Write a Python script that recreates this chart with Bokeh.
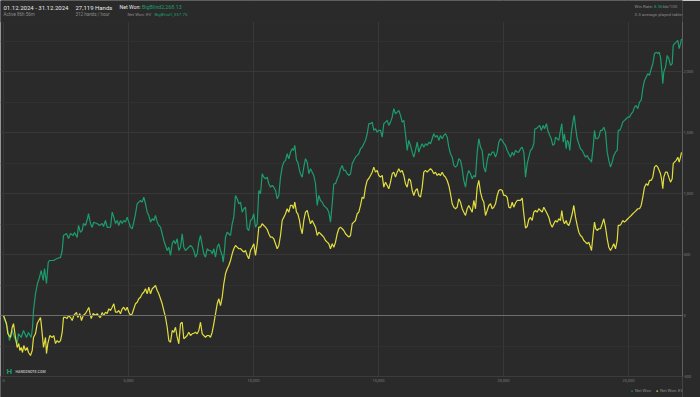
from bokeh.plotting import figure
from bokeh.models import Range1d, FixedTicker, NumeralTickFormatter, Span, Label, BoxAnnotation
from bokeh.embed import file_html
from bokeh.resources import INLINE

# ---- data (hands played vs. big blinds won) ----
won_hands = [0, 148, 240, 348, 440, 548, 600, 708, 800, 920, 1000, 1108, 1160, 1200, 1280, 1360, 1440, 1508, 1588, 1640,
             1720, 1788, 1840, 2000, 2148, 2280, 2348, 2400, 2520, 2600, 2680, 2788, 2840, 2948, 3000, 3080, 3148, 3200,
             3280, 3360, 3400, 3480, 3548, 3600, 3748, 3840, 3948, 4000, 4080, 4148, 4280, 4348, 4412, 4480, 4548, 4612,
             4680, 4748, 4812, 4880, 4948, 5012, 5080, 5148, 5212, 5280, 5348, 5412, 5480, 5548, 5612, 5680, 5748, 5812,
             5880, 5948, 6012, 6080, 6148, 6212, 6280, 6348, 6412, 6480, 6548, 6612, 6680, 6748, 6812, 6880, 6948, 7012,
             7080, 7148, 7212, 7280, 7348, 7412, 7480, 7548, 7612, 7680, 7748, 7812, 7880, 7948, 8012, 8080, 8148, 8212,
             8280, 8348, 8412, 8480, 8548, 8612, 8680, 8748, 8788, 8840, 8880, 8948, 9012, 9080, 9148, 9212, 9280, 9348,
             9412, 9480, 9548, 9612, 9680, 9748, 9812, 9880, 9948, 10012, 10080, 10148, 10212, 10280, 10348, 10412, 10480,
             10548, 10612, 10680, 10748, 10812, 10880, 10948, 11012, 11080, 11148, 11212, 11280, 11348, 11412, 11480,
             11548, 11600, 11652, 11720, 11772, 11840, 11880, 11948, 12012, 12080, 12148, 12212, 12280, 12348, 12412,
             12480, 12548, 12612, 12680, 12748, 12812, 12880, 12948, 13012, 13080, 13148, 13212, 13280, 13348, 13412,
             13480, 13548, 13612, 13680, 13748, 13812, 13880, 13948, 14012, 14080, 14148, 14212, 14280, 14348, 14412,
             14480, 14548, 14612, 14680, 14748, 14812, 14880, 14948, 15012, 15080, 15148, 15212, 15280, 15348, 15412,
             15480, 15548, 15612, 15680, 15748, 15812, 15880, 15948, 16012, 16080, 16148, 16212, 16280, 16348, 16412,
             16480, 16548, 16612, 16680, 16748, 16812, 16880, 16948, 17012, 17080, 17148, 17212, 17280, 17348, 17412,
             17480, 17548, 17612, 17680, 17748, 17812, 17880, 17948, 18012, 18080, 18148, 18212, 18280, 18348, 18412,
             18480, 18548, 18612, 18680, 18748, 18812, 18880, 18948, 19012, 19080, 19148, 19212, 19280, 19348, 19412,
             19480, 19548, 19612, 19680, 19748, 19812, 19880, 19948, 20012, 20080, 20148, 20212, 20280, 20348, 20412,
             20480, 20548, 20612, 20680, 20748, 20812, 20840, 20880, 20948, 21012, 21080, 21148, 21212, 21252, 21320,
             21372, 21452, 21508, 21588, 21640, 21720, 21772, 21852, 21908, 21972, 22040, 22080, 22148, 22212, 22280,
             22332, 22388, 22440, 22508, 22548, 22600, 22652, 22708, 22788, 22828, 22880, 22948, 23012, 23080, 23148,
             23212, 23280, 23348, 23412, 23480, 23520, 23588, 23640, 23692, 23748, 23812, 23880, 23948, 24012, 24080,
             24148, 24212, 24280, 24348, 24412, 24480, 24548, 24588, 24652, 24708, 24772, 24840, 24908, 24972, 25040,
             25108, 25172, 25240, 25308, 25372, 25440, 25508, 25572, 25640, 25708, 25772, 25840, 25908, 25972, 26040,
             26108, 26172, 26228, 26280, 26332, 26372, 26412, 26480, 26548, 26612, 26680, 26748, 26788, 26840, 26908,
             26972, 27028, 27080, 27119]
won_vals = [0, -96, -205, -123, -180, -230, -148, -180, -123, -180, -139, -180, -98, 41, 180, 262, 312, 369, 287, 385,
            262, 435, 451, 451, 467, 476, 533, 656, 672, 631, 672, 656, 681, 640, 738, 681, 697, 754, 738, 795, 836, 754,
            722, 763, 754, 738, 754, 730, 779, 722, 724, 847, 806, 754, 779, 738, 779, 754, 779, 765, 806, 765, 724, 711,
            765, 834, 916, 929, 943, 929, 970, 916, 847, 820, 765, 793, 779, 820, 765, 738, 724, 670, 615, 574, 533, 560,
            492, 588, 615, 588, 629, 533, 560, 670, 560, 533, 547, 560, 574, 560, 533, 478, 506, 601, 656, 574, 506, 478,
            547, 533, 533, 506, 547, 478, 560, 588, 533, 492, 437, 533, 642, 683, 670, 656, 752, 806, 984, 957, 916, 929,
            847, 875, 888, 711, 697, 779, 793, 834, 724, 752, 1025, 998, 1162, 1134, 1121, 1134, 1080, 1052, 1066, 1052,
            1025, 957, 984, 1134, 1216, 1257, 1271, 1326, 1285, 1339, 1367, 1353, 1394, 1271, 1257, 1189, 1162, 1134,
            1216, 1285, 1257, 1162, 1203, 1175, 1148, 1080, 902, 984, 943, 929, 902, 888, 875, 847, 765, 916, 1080,
            1080, 1121, 1148, 1203, 1230, 1189, 1189, 1162, 1148, 1162, 1244, 1271, 1298, 1312, 1326, 1367, 1380, 1408,
            1435, 1490, 1572, 1572, 1585, 1517, 1531, 1503, 1517, 1517, 1462, 1572, 1585, 1599, 1558, 1585, 1626, 1695,
            1654, 1667, 1681, 1640, 1585, 1599, 1490, 1353, 1435, 1394, 1339, 1298, 1353, 1421, 1339, 1380, 1408, 1380,
            1408, 1394, 1421, 1408, 1449, 1490, 1462, 1476, 1435, 1476, 1449, 1476, 1490, 1462, 1380, 1326, 1298, 1230,
            1216, 1230, 1285, 1271, 1203, 1107, 1052, 1148, 1189, 1162, 1121, 1148, 1134, 1339, 1449, 1380, 1353, 1216,
            1175, 1271, 1326, 1312, 1339, 1339, 1298, 1339, 1421, 1449, 1435, 1413, 1394, 1353, 1326, 1298, 1339, 1312,
            1353, 1339, 1339, 1367, 1380, 1337, 1271, 1134, 1244, 1298, 1353, 1369, 1408, 1531, 1531, 1544, 1558, 1517,
            1558, 1531, 1572, 1517, 1476, 1449, 1394, 1408, 1462, 1449, 1435, 1517, 1572, 1421, 1490, 1367, 1435, 1421,
            1353, 1490, 1599, 1640, 1544, 1449, 1408, 1367, 1353, 1326, 1298, 1312, 1285, 1271, 1257, 1380, 1517, 1449,
            1449, 1462, 1517, 1517, 1544, 1503, 1339, 1271, 1216, 1257, 1312, 1339, 1353, 1517, 1517, 1544, 1585, 1599,
            1613, 1626, 1626, 1654, 1667, 1708, 1722, 1695, 1749, 1763, 1859, 1927, 1954, 1982, 1968, 2023, 2064, 2146,
            2159, 2146, 2159, 2118, 2009, 1900, 1995, 2036, 2132, 2105, 2050, 2064, 2214, 2228, 2241, 2255, 2187, 2228,
            2268]

ev_hands = [0, 120, 172, 280, 348, 400, 480, 548, 612, 652, 708, 760, 812, 880, 948, 1000, 1080, 1148, 1200, 1280, 1348,
            1412, 1480, 1508, 1548, 1600, 1680, 1720, 1772, 1852, 1948, 2012, 2080, 2148, 2212, 2280, 2348, 2400, 2480,
            2548, 2600, 2680, 2748, 2812, 2920, 2972, 3052, 3120, 3188, 3280, 3348, 3412, 3452, 3508, 3588, 3680, 3748,
            3852, 3880, 3948, 4012, 4080, 4148, 4212, 4280, 4348, 4412, 4480, 4548, 4612, 4680, 4748, 4812, 4880, 4948,
            5012, 5080, 5148, 5212, 5280, 5348, 5412, 5480, 5548, 5612, 5680, 5748, 5812, 5880, 5948, 6012, 6080, 6148,
            6212, 6280, 6348, 6412, 6480, 6548, 6612, 6680, 6748, 6812, 6880, 6948, 7012, 7080, 7148, 7212, 7280, 7348,
            7412, 7480, 7548, 7612, 7680, 7748, 7812, 7880, 7948, 8012, 8080, 8148, 8212, 8280, 8348, 8412, 8480, 8548,
            8612, 8680, 8748, 8812, 8880, 8948, 9012, 9080, 9148, 9212, 9280, 9348, 9412, 9480, 9548, 9612, 9680, 9748,
            9812, 9880, 9948, 10012, 10080, 10148, 10212, 10280, 10348, 10412, 10480, 10548, 10612, 10680, 10748, 10812,
            10880, 10948, 11012, 11080, 11148, 11212, 11280, 11348, 11412, 11480, 11548, 11600, 11652, 11720, 11772,
            11840, 11880, 11948, 12012, 12080, 12148, 12212, 12280, 12348, 12412, 12480, 12548, 12612, 12680, 12748,
            12812, 12880, 12948, 13012, 13080, 13148, 13212, 13280, 13348, 13412, 13480, 13548, 13612, 13680, 13748,
            13812, 13880, 13948, 14012, 14080, 14148, 14212, 14280, 14348, 14412, 14480, 14548, 14612, 14680, 14748,
            14812, 14880, 14948, 15012, 15080, 15148, 15212, 15280, 15348, 15412, 15480, 15548, 15612, 15680, 15748,
            15812, 15880, 15948, 16012, 16080, 16148, 16212, 16280, 16348, 16412, 16480, 16548, 16612, 16680, 16748,
            16812, 16880, 16948, 17012, 17080, 17148, 17212, 17280, 17348, 17412, 17480, 17548, 17612, 17680, 17748,
            17812, 17880, 17948, 18012, 18080, 18148, 18212, 18280, 18348, 18412, 18480, 18548, 18612, 18680, 18748,
            18812, 18880, 18948, 19012, 19080, 19148, 19212, 19280, 19348, 19412, 19480, 19548, 19612, 19680, 19748,
            19812, 19880, 19948, 20012, 20080, 20148, 20212, 20280, 20348, 20412, 20480, 20548, 20612, 20680, 20748,
            20812, 20880, 20948, 21012, 21080, 21148, 21212, 21280, 21348, 21412, 21480, 21548, 21612, 21680, 21748,
            21812, 21880, 21948, 22012, 22080, 22148, 22212, 22280, 22332, 22388, 22440, 22508, 22548, 22612, 22680,
            22748, 22812, 22880, 22948, 23012, 23080, 23148, 23212, 23280, 23348, 23412, 23480, 23520, 23588, 23640,
            23692, 23748, 23812, 23880, 23948, 24012, 24080, 24148, 24212, 24280, 24348, 24412, 24480, 24548, 24588,
            24652, 24708, 24772, 24840, 24908, 24972, 25040, 25108, 25172, 25240, 25308, 25372, 25440, 25508, 25572,
            25640, 25708, 25772, 25840, 25908, 25972, 26040, 26108, 26172, 26228, 26280, 26332, 26372, 26412, 26480,
            26548, 26612, 26680, 26748, 26788, 26840, 26908, 26972, 27028, 27080, 27119]
ev_vals = [0, -66, -148, -180, -98, -66, -180, -262, -230, -287, -262, -303, -246, -287, -262, -303, -328, -287, -180,
           -148, -66, -41, -16, -66, -148, -262, -180, -312, -230, -164, -180, -164, -230, -205, -221, -205, -139, -16,
           -16, -25, 0, -16, -41, 0, 25, -16, 16, -41, 0, 16, 41, 66, 25, -25, 16, 0, 16, -16, -14, 25, 0, 27, 16, 55,
           41, 68, 96, 27, 27, 41, 14, 55, 68, 41, 68, 27, 0, 14, 55, 96, 109, 137, 150, 178, 191, 219, 178, 232, 178,
           219, 232, 246, 205, 178, 137, 96, 41, -14, -96, -205, -219, -123, -137, -96, -178, -232, -68, -55, -191,
           -178, -164, -137, -164, -150, -145, -137, -150, -123, -55, -150, -164, -178, -164, -164, -178, -137, -68, 14,
           96, 137, 82, 150, 260, 342, 383, 410, 451, 506, 547, 574, 560, 547, 549, 533, 519, 533, 492, 465, 533, 560,
           588, 492, 588, 724, 724, 752, 738, 724, 705, 670, 642, 642, 629, 588, 547, 574, 656, 779, 806, 834, 875, 847,
           902, 902, 877, 929, 847, 834, 779, 724, 670, 779, 847, 861, 806, 752, 779, 752, 724, 656, 683, 670, 656, 642,
           615, 601, 588, 547, 588, 560, 601, 670, 711, 724, 711, 697, 670, 656, 642, 656, 752, 765, 779, 834, 847, 902,
           970, 959, 1052, 1107, 1123, 1148, 1175, 1216, 1175, 1189, 1148, 1134, 1148, 1052, 1093, 1066, 1039, 1093,
           1162, 1175, 1134, 1175, 1203, 1175, 1189, 1148, 1080, 1052, 1121, 1107, 1025, 984, 1025, 1039, 984, 970,
           1052, 1175, 1189, 1175, 1189, 1203, 1189, 1162, 1175, 1148, 1162, 1148, 1175, 1148, 1134, 1107, 1066, 998,
           916, 888, 875, 888, 957, 929, 875, 847, 820, 875, 902, 875, 847, 943, 875, 1052, 1107, 1011, 957, 929, 820,
           861, 902, 916, 875, 888, 916, 984, 1025, 1033, 1025, 984, 984, 968, 888, 881, 929, 888, 922, 943, 943, 943,
           963, 834, 717, 730, 787, 804, 779, 847, 861, 847, 875, 861, 847, 888, 861, 834, 806, 752, 724, 752, 779, 765,
           793, 779, 861, 779, 752, 779, 752, 738, 779, 834, 902, 806, 738, 683, 656, 642, 615, 601, 588, 601, 560, 533,
           670, 765, 711, 697, 711, 711, 752, 793, 724, 629, 560, 533, 560, 588, 547, 615, 738, 738, 752, 779, 765, 779,
           793, 806, 820, 834, 847, 861, 875, 875, 902, 970, 1052, 1080, 1066, 1107, 1107, 1134, 1216, 1230, 1216,
           1189, 1162, 1107, 1039, 1134, 1175, 1175, 1134, 1093, 1121, 1244, 1257, 1271, 1298, 1257, 1298, 1338]

x_ticks = [0, 5000, 10000, 15000, 20000, 25000]
y_ticks = [-500, 0, 500, 1000, 1500, 2000]
y_minor = [-250, 250, 750, 1250, 1750, 2250]
series_labels = ["Net Won", "Net Won: EV"]

BG = "#2a2a2a"
GREEN = "#1c9d6d"
YELLOW = "#e2de3e"
FONT = "Roboto"
WHITE = "#e6e6e6"
GREY = "#8a8a8a"
TICK = "#7c7c7c"

p = figure(width=700, height=397, output_backend="svg", toolbar_location=None,
           x_range=Range1d(-120, 27160), y_range=Range1d(-672, 2582),
           y_axis_location="right",
           background_fill_color=BG, border_fill_color=BG, outline_line_color=None,
           min_border_left=0, min_border_top=0, min_border_right=18, min_border_bottom=0)

# x axis labels are drawn inside the frame (below the -500 line), so the axis itself is hidden
p.xaxis.visible = False
p.xgrid.ticker = FixedTicker(ticks=x_ticks)
p.yaxis.ticker = FixedTicker(ticks=y_ticks, minor_ticks=y_minor)
ya = p.yaxis[0]
ya.formatter = NumeralTickFormatter(format="0,0")
ya.major_label_text_font = FONT
ya.major_label_text_font_size = "4px"
ya.major_label_text_color = TICK
ya.axis_line_color = None
ya.major_tick_line_color = None
ya.minor_tick_line_color = None
ya.major_tick_out = 0
ya.major_tick_in = 0
ya.minor_tick_out = 0
ya.minor_tick_in = 0
ya.major_label_standoff = 1

p.xgrid.grid_line_color = "#383838"
p.ygrid.grid_line_color = "#383838"
p.ygrid.minor_grid_line_color = "#313131"
p.xgrid.bounds = (x_ticks[0], x_ticks[-1])

p.add_layout(Span(location=0, dimension="width", line_color="#6e6e6e", line_width=1))
p.add_layout(Span(location=y_ticks[0], dimension="width", line_color="#3c3c3c", line_width=1))

p.line(won_hands, won_vals, line_color=GREEN, line_width=1.2)
p.line(ev_hands, ev_vals, line_color=YELLOW, line_width=1.2)

FB = 397  # frame bottom in page px; label screen y is measured upward from it

# header strip above the plotting area
p.add_layout(BoxAnnotation(left=-10, right=720, bottom=FB - 21.5, top=FB + 10,
                           left_units="screen", right_units="screen",
                           bottom_units="screen", top_units="screen",
                           fill_color=BG, fill_alpha=1, line_color="#363636", line_width=1))
# strip below the -500 line (tick labels, legend)
p.add_layout(BoxAnnotation(left=-10, right=720, bottom=-10, top=FB - 376.5,
                           left_units="screen", right_units="screen",
                           bottom_units="screen", top_units="screen",
                           fill_color=BG, fill_alpha=1, line_color=None))
# settings button outline
p.add_layout(BoxAnnotation(left=688, right=698, bottom=FB - 13, top=FB - 3,
                           left_units="screen", right_units="screen",
                           bottom_units="screen", top_units="screen",
                           fill_color="#303030", fill_alpha=1, line_color="#474747", line_width=1,
                           border_radius=5))


def lab(x, y, text, color, size, weight="normal", align="left", x_units="screen"):
    p.add_layout(Label(x=x, y=FB - y, x_units=x_units, y_units="screen", text=text,
                       text_color=color, text_font=FONT, text_font_size=size,
                       text_font_style=weight, text_align=align, text_baseline="middle"))


lab(3, 6.7, "01.12.2024 - 31.12.2024", WHITE, "6px")
lab(3, 14.3, "Active 86h 56m", GREY, "4.5px")
lab(75, 6.7, "27,119 Hands", WHITE, "6px")
lab(75, 14.3, "312 hands / hour", GREY, "4.5px")
lab(119, 6.7, "Net Won:", WHITE, "5.2px")
lab(141.5, 6.7, "BigBlind2,268.13", GREEN, "5.3px")
lab(127, 14.3, "Net Won: EV", GREY, "4.3px")
lab(154, 14.3, "BigBlind1,337.75", GREEN, "4.4px")
lab(634, 6, "Win Rate:", GREY, "4.4px")
lab(653.5, 6, "8.36", GREEN, "4.4px")
lab(662.5, 6, "bb/100", GREY, "4.4px")
lab(634, 13.7, "3.3 average played tables", GREY, "4.4px")
lab(693, 8, "\u2699", "#5a5a5a", "7px", align="center")

# x tick labels placed through the x scale
for t in x_ticks:
    lab(t, 380, f"{t:,}", TICK, "4px", align="center", x_units="data")

lab(6, 371, "H", GREEN, "8px", weight="bold")
lab(15, 371, "HAND2NOTE.COM", "#b0b0b0", "3.6px", weight="bold")

lab(630.5, 390, "\u25CF", GREEN, "3.5px")
lab(634.5, 390, series_labels[0], GREY, "4.2px")
lab(655.5, 390, "\u25CF", YELLOW, "3.5px")
lab(659.5, 390, series_labels[1], GREY, "4.2px")

open("out.html", "w").write(file_html(p, INLINE))
